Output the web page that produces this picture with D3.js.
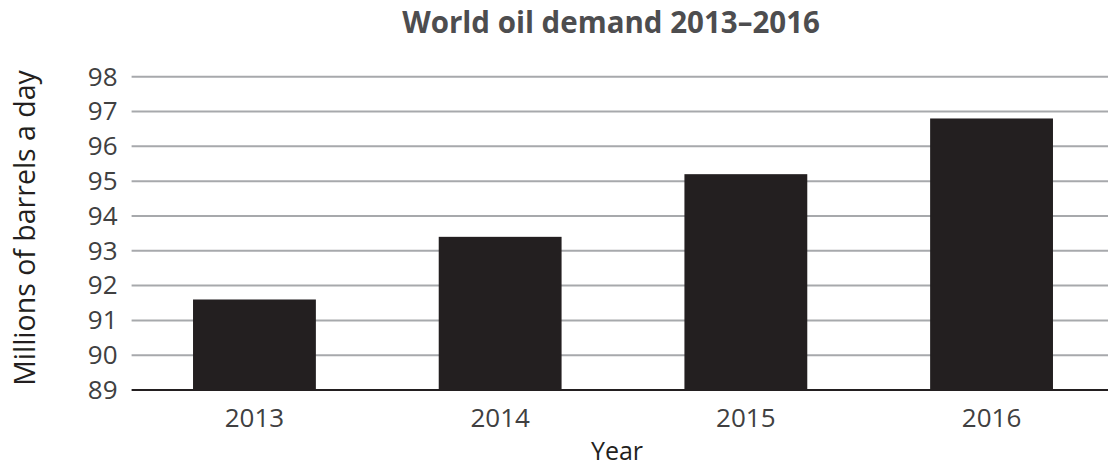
<!DOCTYPE html>
<html><head><meta charset="utf-8">
<script src="https://cdn.jsdelivr.net/npm/d3@7"></script>
<style>body{margin:0;background:#fff}svg{display:block}</style>
</head><body><svg id="c" width="1108" height="469"></svg>
<script>
const years = ["2013","2014","2015","2016"];
const demand = [91.6, 93.4, 95.2, 96.8];
const yTicks = [89,90,91,92,93,94,95,96,97,98];
const title = "World oil demand 2013–2016";
const xTitle = "Year";
const yTitle = "Millions of barrels a day";

(function(){
const svg = d3.select("#c");
const font = "'Open Sans', 'Noto Sans', sans-serif";
const mLeft = 131.6, mRight = 1108, mTop = 76.7, mBottom = 390;

const x = d3.scaleBand().domain(years).range([mLeft, 1114.4]).paddingInner(0.5).paddingOuter(0.25);
const y = d3.scaleLinear().domain([89, 98]).range([mBottom, mTop]);

// gridlines
svg.append("g").selectAll("line").data(yTicks.slice(1)).join("line")
  .attr("x1", mLeft).attr("x2", mRight)
  .attr("y1", d => y(d)).attr("y2", d => y(d))
  .attr("stroke", "#a7a9ac").attr("stroke-width", 2);

// bars
svg.append("g").selectAll("rect").data(years).join("rect")
  .attr("x", d => x(d)).attr("width", x.bandwidth())
  .attr("y", (d,i) => y(demand[i])).attr("height", (d,i) => y(89) - y(demand[i]))
  .attr("fill", "#231f20");

// baseline
svg.append("line").attr("x1", mLeft).attr("x2", mRight).attr("y1", y(89)).attr("y2", y(89))
  .attr("stroke", "#231f20").attr("stroke-width", 2);

// y tick labels
const ya = svg.append("g").attr("transform", `translate(${mLeft},0)`)
  .call(d3.axisLeft(y).tickValues(yTicks).tickSize(0).tickPadding(14));
ya.select(".domain").remove();
ya.selectAll("text").attr("font-family", font).attr("font-size", 26).attr("fill", "#404041");

// x tick labels
const xa = svg.append("g").attr("transform", `translate(0,${mBottom})`)
  .call(d3.axisBottom(x).tickSize(0).tickPadding(19));
xa.select(".domain").remove();
xa.selectAll("text").attr("font-family", font).attr("font-size", 26).attr("fill", "#404041");

// titles
svg.append("text").attr("x", 611).attr("y", 33).attr("text-anchor", "middle")
  .attr("font-family", font).attr("font-weight", "bold").attr("font-size", 29.5).attr("fill", "#4d4d4f")
  .text(title);
svg.append("text").attr("x", 617).attr("y", 460).attr("text-anchor", "middle")
  .attr("font-family", font).attr("font-size", 25).attr("fill", "#231f20").text(xTitle);
svg.append("text").attr("transform", "translate(35,228) rotate(-90)").attr("text-anchor", "middle")
  .attr("font-family", font).attr("font-size", 28.5).attr("fill", "#231f20").text(yTitle);
})();
</script></body></html>
